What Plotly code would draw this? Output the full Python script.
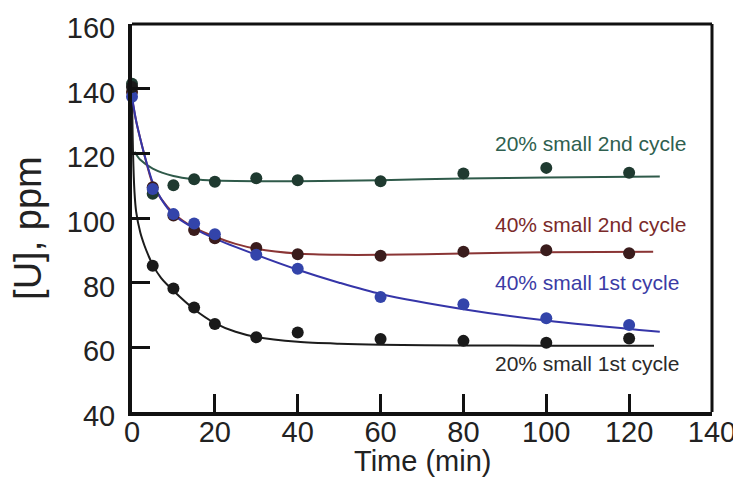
import plotly.graph_objects as go

# ---- measured data (time in min, [U] in ppm) ----
t_pts = [0, 5, 10, 15, 20, 30, 40, 60, 80, 100, 120]
u_20_1st = [140.5, 85.2, 78.2, 72.3, 67.2, 63.1, 64.6, 62.6, 62.0, 61.4, 62.7]
u_20_2nd = [141.5, 107.5, 110.1, 112.0, 111.2, 112.3, 111.7, 111.4, 113.8, 115.5, 114.0]
u_40_1st = [137.5, 109.0, 101.2, 98.3, 95.0, 88.6, 84.3, 75.6, 73.3, 69.0, 66.9]
u_40_2nd = [139.0, 109.5, 100.8, 96.3, 93.7, 90.7, 88.8, 88.3, 89.6, 90.0, 89.1]

# ---- fitted curves ----
t_fit_20_1st = [0, 0.25, 0.6, 1, 2, 3, 4, 5, 7, 10, 15, 20, 25, 30, 40, 50, 60, 80, 100, 126]
fit_20_1st = [139, 120, 108, 102, 95.5, 91.5, 88.3, 85.5, 81.5, 77.5, 71.8, 67.5, 64.8, 63.2,
              61.7, 61.1, 60.8, 60.6, 60.5, 60.5]

t_fit_20_2nd = [0.6, 2, 5, 10, 15, 20, 30, 40, 60, 80, 100, 127.4]
fit_20_2nd = [120.5, 118, 115.3, 113, 112, 111.6, 111.4, 111.4, 111.7, 112.2, 112.5, 112.8]

t_fit_40_1st = [0, 1, 2, 3, 5, 7, 10, 15, 20, 30, 40, 50, 60, 80, 100, 127.4]
fit_40_1st = [137.5, 130, 124.5, 119.5, 111, 106, 101, 96.8, 93.6, 88.6, 84, 80, 76.5, 71.8,
              68.3, 64.8]

t_fit_40_2nd = [0, 1, 2, 3, 5, 7, 10, 15, 20, 25, 30, 40, 50, 60, 80, 100, 125.8]
fit_40_2nd = [137, 130, 124.5, 119.5, 110.5, 106, 101.5, 97, 94.2, 92, 90.5, 89, 88.6, 88.6,
              89, 89.4, 89.6]

labels = ["20% small 2nd cycle", "40% small 2nd cycle", "40% small 1st cycle", "20% small 1st cycle"]
x_ticks = [0, 20, 40, 60, 80, 100, 120, 140]
y_ticks = [40, 60, 80, 100, 120, 140, 160]

FONT = "Liberation Sans, Arial, sans-serif"
C_GREEN, C_RED, C_BLUE, C_BLACK = "#2f5a4a", "#8a3535", "#3535a8", "#1c1c1c"
M_GREEN, M_RED, M_BLUE, M_BLACK = "#1f3a30", "#3a1c1c", "#3344aa", "#1a1a1a"

fig = go.Figure()
for tx, fy, c in [(t_fit_20_2nd, fit_20_2nd, C_GREEN), (t_fit_40_2nd, fit_40_2nd, C_RED),
                  (t_fit_20_1st, fit_20_1st, C_BLACK), (t_fit_40_1st, fit_40_1st, C_BLUE)]:
    fig.add_trace(go.Scatter(x=tx, y=fy, mode="lines", line=dict(color=c, width=2, shape="spline",
                                                                  smoothing=0.8),
                             showlegend=False, hoverinfo="skip"))
for yy, c in [(u_20_2nd, M_GREEN), (u_40_2nd, M_RED), (u_40_1st, M_BLUE), (u_20_1st, M_BLACK)]:
    fig.add_trace(go.Scatter(x=t_pts, y=yy, mode="markers",
                             marker=dict(color=c, size=12, line=dict(width=0)),
                             showlegend=False, cliponaxis=False))

ann_y = [122.9, 98.1, 80.0, 55.05]
ann_c = ["#2f5f4f", "#7a2a2a", "#3b3ba5", "#2a2a2a"]
for lab, yv, c in zip(labels, ann_y, ann_c):
    fig.add_annotation(x=87.1, y=yv, text=lab, showarrow=False, xanchor="left", yanchor="middle",
                       font=dict(family=FONT, size=21, color=c))

fig.add_annotation(xref="paper", yref="paper", x=0.5, y=-0.125, text="Time (min)", showarrow=False,
                   xanchor="center", yanchor="middle", font=dict(family=FONT, size=29, color="#222"))
fig.add_annotation(xref="paper", yref="paper", x=-0.179, y=0.475, text="[U], ppm", showarrow=False,
                   textangle=-90, xanchor="center", yanchor="middle",
                   font=dict(family=FONT, size=38, color="#222"))

# top and right frame lines (thinner)
fig.add_shape(type="line", xref="paper", yref="paper", x0=0, x1=1, y0=1, y1=1,
              line=dict(color="#111", width=3))
fig.add_shape(type="line", xref="paper", yref="paper", x0=1, x1=1, y0=0, y1=1,
              line=dict(color="#111", width=3))

fig.update_xaxes(range=[0, 140], tickvals=x_ticks, ticktext=[str(v) for v in x_ticks],
                 showgrid=False, zeroline=False, showline=True, linecolor="#111", linewidth=4,
                 ticks="inside", ticklen=18, tickwidth=3, tickcolor="#111", automargin=False,
                 tickfont=dict(family=FONT, size=29, color="#222"), ticklabelstandoff=-9)
fig.update_yaxes(range=[40, 160], tickvals=y_ticks, ticktext=[str(v) for v in y_ticks],
                 showgrid=False, zeroline=False, showline=True, linecolor="#111", linewidth=4,
                 ticks="inside", ticklen=18, tickwidth=3, tickcolor="#111", automargin=False,
                 tickfont=dict(family=FONT, size=29, color="#222"), ticklabelstandoff=7,
                 ticklabelshift=4)
fig.update_layout(width=733, height=473, margin=dict(l=124, r=29, t=16, b=69),
                  paper_bgcolor="white", plot_bgcolor="white")
fig.write_html("out.html")
